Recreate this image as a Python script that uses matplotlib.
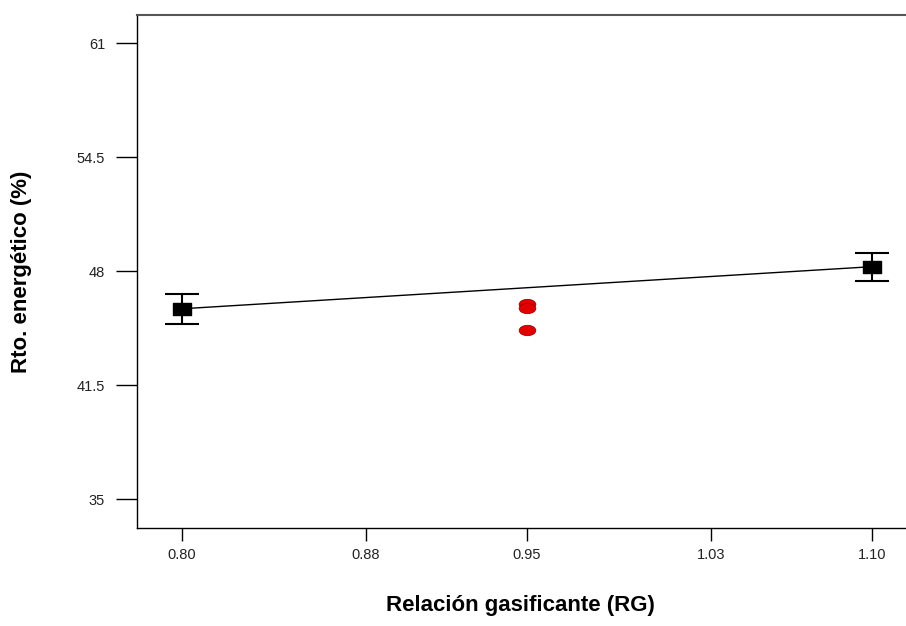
import numpy as np
import matplotlib
matplotlib.use("Agg")
import matplotlib.pyplot as plt
from matplotlib.path import Path
from matplotlib.transforms import Affine2D

plt.rcParams['font.family'] = ['Liberation Sans', 'DejaVu Sans']

# Design points (factor levels) with mean response and error bar half-width
rg_levels = [0.80, 1.10]
rto_mean = [45.85, 48.25]
rto_err = [0.85, 0.80]

# Centre points
rg_center = [0.95, 0.95, 0.95]
rto_center = [46.10, 45.90, 44.65]

# Fitted model line
rg_fit = [0.80, 1.10]
rto_fit = [45.85, 48.25]

x_ticks = [0.80, 0.88, 0.95, 1.03, 1.10]
x_ticklabels = ['0.80', '0.88', '0.95', '1.03', '1.10']
y_ticks = [35, 41.5, 48, 54.5, 61]
y_ticklabels = ['35', '41.5', '48', '54.5', '61']

fig = plt.figure(figsize=(9.06, 6.26), dpi=100)
ax = fig.add_axes([137 / 906, 1 - 528 / 626, (906 - 137) / 906, (528 - 15) / 626])

ax.plot(rg_fit, rto_fit, color='black', lw=1.0, zorder=2)

# wide, flat rectangle for the factorial points
rect = Path.unit_rectangle().transformed(Affine2D().translate(-0.5, -0.5).scale(1.0, 0.7))
ax.errorbar(rg_levels, rto_mean, yerr=rto_err, fmt='none', ecolor='black',
            capsize=12.5, elinewidth=1.5, capthick=1.5, zorder=3)
ax.plot(rg_levels, rto_mean, linestyle='none', marker=rect, ms=12.5,
        color='black', zorder=4)

# flattened ellipse marker for the centre points
ellipse = Path.unit_circle().transformed(Affine2D().scale(1.0, 0.62))
ax.plot(rg_center, rto_center, linestyle='none', marker=ellipse, ms=12,
        markerfacecolor='#e00000', markeredgecolor='#a00000', mew=0.6, zorder=4)

ax.set_xlim(0.7804, 1.1148)
ax.set_ylim(33.35, 62.6)
ax.set_xticks(x_ticks)
ax.set_xticklabels(x_ticklabels)
ax.set_yticks(y_ticks)
ax.set_yticklabels(y_ticklabels)
ax.tick_params(axis='y', direction='out', length=15, width=1, pad=8,
               labelsize=10.5, labelcolor='#222222')
ax.tick_params(axis='x', direction='out', length=9.5, width=1, pad=5,
               labelsize=10.5, labelcolor='#222222')

ax.spines['right'].set_visible(False)
ax.spines['top'].set_color('#555555')
ax.spines['top'].set_linewidth(1.5)
for side in ('left', 'bottom'):
    ax.spines[side].set_linewidth(1.0)

fig.text(520 / 906, 1 - 605 / 626, 'Relación gasificante (RG)', ha='center',
         va='center', fontsize=16, fontweight='bold')
fig.text(22 / 906, 1 - 272 / 626, 'Rto. energético (%)', ha='center',
         va='center', rotation=90, fontsize=16, fontweight='bold')

fig.savefig('out.png', dpi=100)
